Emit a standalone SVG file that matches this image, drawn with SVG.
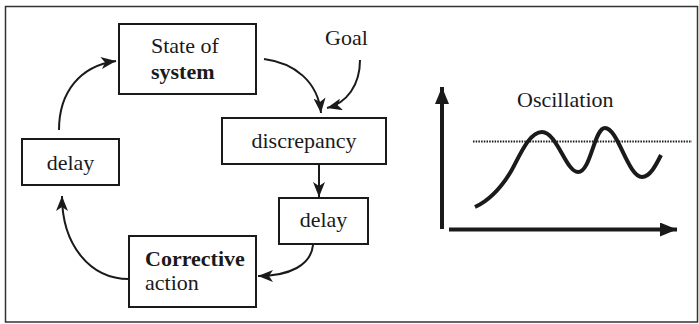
<svg xmlns="http://www.w3.org/2000/svg" width="699" height="324" viewBox="0 0 699 324">
<style>
.box{fill:#fff;stroke:#1a1a1a;stroke-width:2}
text{font-family:"Liberation Serif","Times New Roman",serif;font-size:22px;fill:#1a1a1a}
.b{font-weight:bold}
.c{fill:none;stroke:#1a1a1a;stroke-width:2}
.ax{fill:none;stroke:#1a1a1a;stroke-width:4}
</style>
<defs>
<marker id="ah" markerUnits="userSpaceOnUse" markerWidth="16" markerHeight="12" viewBox="0 0 16 12" refX="15" refY="6" orient="auto">
<path d="M0,0 L15,6 L0,12 L4,6 Z" fill="#1a1a1a"/>
</marker>
<marker id="ahb" markerUnits="userSpaceOnUse" markerWidth="18" markerHeight="14" viewBox="0 0 18 14" refX="17" refY="7" orient="auto">
<path d="M0,0 L17,7 L0,14 Z" fill="#1a1a1a"/>
</marker>
</defs>
<rect x="5.5" y="6.5" width="692" height="315.5" fill="#fff" stroke="#333" stroke-width="1.5"/>
<g id="connectors">
<path class="c" d="M59,130 C59,92 80,66 116,61" marker-end="url(#ah)"/>
<path class="c" d="M264,59 C295,63 318,82 321,113" marker-end="url(#ah)"/>
<path class="c" d="M360,60 C360,85 347,103 327,108" marker-end="url(#ah)"/>
<path class="c" d="M319,164 L319,197" marker-end="url(#ah)"/>
<path class="c" d="M313,245 C311,265 290,276 258,276" marker-end="url(#ah)"/>
<path class="c" d="M129,279 C90,279 62,245 62,196" marker-end="url(#ah)"/>
</g>
<g id="state">
<rect class="box" x="119" y="24" width="137" height="70"/>
<text x="151" y="53">State of</text>
<text class="b" x="151" y="79">system</text>
</g>
<g id="goal">
<text x="325" y="45">Goal</text>
</g>
<g id="discrepancy">
<rect class="box" x="222" y="118" width="164" height="46"/>
<text x="304" y="148" text-anchor="middle">discrepancy</text>
</g>
<g id="delay2">
<rect class="box" x="279" y="198" width="89" height="46"/>
<text x="323.5" y="227" text-anchor="middle">delay</text>
</g>
<g id="corrective">
<rect class="box" x="129" y="236" width="127" height="71"/>
<text class="b" x="145" y="266">Corrective</text>
<text x="145" y="290">action</text>
</g>
<g id="delay1">
<rect class="box" x="22" y="139" width="97" height="46"/>
<text x="70.5" y="170" text-anchor="middle">delay</text>
</g>
<g id="chart">
<path class="ax" d="M442,229 L442,87" marker-end="url(#ahb)"/>
<path class="ax" d="M449,229.5 L677,229.5" marker-end="url(#ahb)"/>
<text x="517" y="107">Oscillation</text>
<line x1="473" y1="141.5" x2="692" y2="141.5" stroke="#1a1a1a" stroke-width="2" stroke-dasharray="1.5,1.2"/>
<path fill="none" stroke="#1a1a1a" stroke-width="4" d="M475,207 C490,200 502,186 510,173 C518,160 528,132 542,132 C557,132 566,172 578,172 C591,172 594,128 605,128 C618,128 628,177 642,177 C650,177 656,165 661,155"/>
</g>
</svg>
